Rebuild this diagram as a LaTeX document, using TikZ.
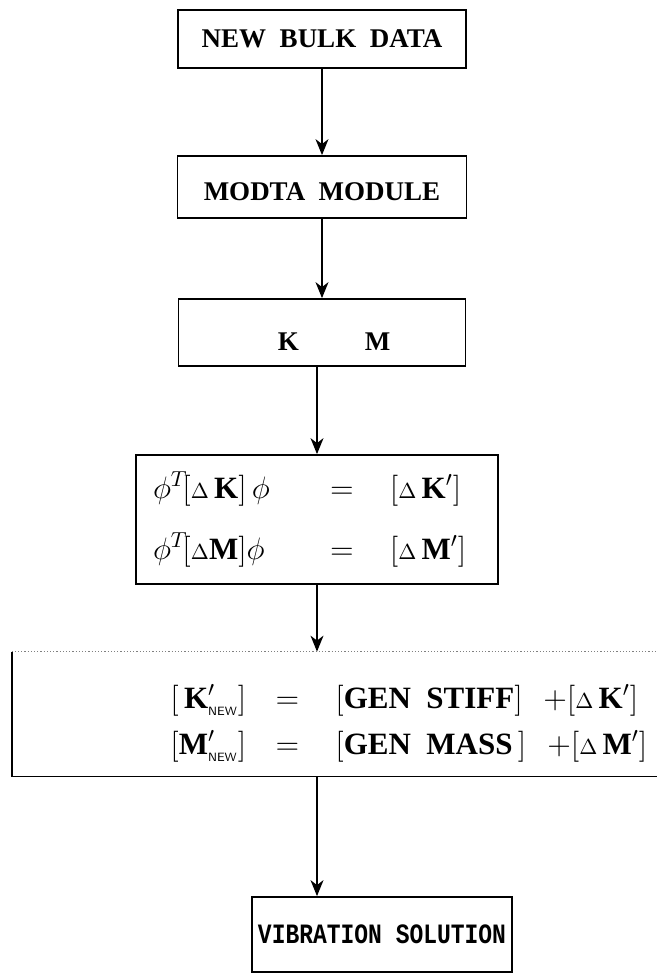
\RequirePackage{fix-cm}
\documentclass[tikz,border=0pt]{standalone}
\usepackage{fontspec}
\setmainfont{Liberation Serif}
\newfontfamily\vibfont[FakeStretch=0.82]{Liberation Mono}
\usetikzlibrary{arrows.meta,calc}

\begin{document}
\begin{tikzpicture}[x=0.5pt, y=-0.5pt,
  flowbox/.style={draw, line width=0.9pt, inner sep=0pt, font=\fontsize{13.5}{15}\selectfont\bfseries},
  mathbox/.style={inner sep=0pt, align=left, font=\fontsize{15.5}{#1}\selectfont},
  arr/.style={-{Stealth[length=8pt,width=6.5pt,inset=2.5pt]}, line width=0.7pt}]
  \useasboundingbox (0,0) rectangle (657,980);
  % 上方三个方框
  \node[flowbox, minimum width=144pt, minimum height=29pt] (bulk) at (322,39) {NEW\ \ BULK\ \ DATA};
  \node[flowbox, minimum width=144.5pt, minimum height=31pt, text height=13.6pt, text depth=0pt] (modta) at (322,187) {MODTA\ \ MODULE};
  \node[flowbox, minimum width=143.5pt, minimum height=33.5pt, text height=18pt, text depth=0pt] (km) at (322,332.5) {\hspace{12pt}K\hspace{33pt}M};
  % 广义刚度与质量的增量
  \node[draw, line width=0.9pt, minimum width=181pt, minimum height=64.5pt, mathbox=30.5pt] (phi) at (317,519.5)
    {\makebox[84.5pt][l]{$\phi^{T}\![{\scriptstyle\Delta}\,\textbf{K}]\,\phi$}\makebox[20pt]{$=$}\makebox[59.5pt][l]{\hspace{14pt}$[{\scriptstyle\Delta}\,\textbf{K}']$}\\
     \makebox[84.5pt][l]{$\phi^{T}\![{\scriptstyle\Delta}\textbf{M}]\phi$}\makebox[20pt]{$=$}\makebox[59.5pt][l]{\hspace{14pt}$[{\scriptstyle\Delta}\,\textbf{M}']$}};
  % 右侧敞开的大框：左、下实线，上边虚点
  \node[minimum width=322.5pt, minimum height=62pt, inner sep=0pt] (gen) at (334.5,714) {};
  \draw[line width=0.9pt] (gen.north west) -- (gen.south west) -- (gen.south east);
  \draw[line width=0.6pt, densely dotted, gray] (gen.north west) -- (gen.north east);
  \node[mathbox=20pt, anchor=west] (genk) at (170,700)
    {\makebox[51pt][l]{$\bigl[\,\textbf{K}'_{\mbox{\sffamily\fontsize{6}{6}\selectfont NEW}}\bigr]$}\makebox[15pt]{$=$}\makebox[120.5pt][l]{\hspace{16.5pt}$\bigl[$\textbf{GEN\ \ STIFF}$\bigr]$}$+\bigl[{\scriptstyle\Delta}\,\textbf{K}'\bigr]$};
  \node[mathbox=20pt, anchor=west] (genm) at (170,746)
    {\makebox[51pt][l]{$\bigl[\textbf{M}'_{\mbox{\sffamily\fontsize{6}{6}\selectfont NEW}}\bigr]$}\makebox[15pt]{$=$}\makebox[120.5pt][l]{\hspace{16.5pt}$\bigl[$\textbf{GEN\ \ MASS}\,$\bigr]$}\hspace{2pt}$+\bigl[{\scriptstyle\Delta}\,\textbf{M}'\bigr]$};
  % 最后的求解框
  \node[draw, line width=0.9pt, minimum width=130pt, minimum height=37.5pt, inner sep=0pt, font=\vibfont\fontsize{14}{16}\selectfont\bfseries] (vib) at (382,934.5) {VIBRATION SOLUTION};
  % 竖直箭头
  \draw[arr] (bulk) -- (modta);
  \draw[arr] (modta) -- (km);
  \draw[arr] (phi.north |- km.south) -- (phi.north);
  \draw[arr] (phi.south) -- (phi.south |- gen.north);
  \draw[arr] (phi.south |- gen.south) -- (phi.south |- vib.north);
\end{tikzpicture}
\end{document}
